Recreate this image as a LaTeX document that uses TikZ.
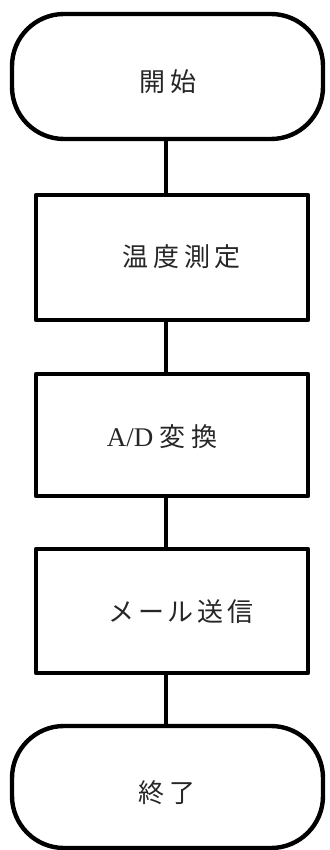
\documentclass[tikz,border=0pt]{standalone}
\usepackage{fontspec}
\setmainfont{Liberation Serif}
\newfontfamily\jpfont{Noto Sans CJK JP}
\begin{document}
\begin{tikzpicture}[x=1pt,y=-1pt,
  shapeline/.style={draw=black,line width=4.4pt,line join=round,fill=white},
  terminal/.style={shapeline,rectangle,rounded corners=52pt,minimum width=311pt,minimum height=125pt,inner sep=0pt},
  procbox/.style={shapeline,rectangle,minimum width=272pt,minimum height=125pt,inner sep=0pt},
  lbl/.style={font=\fontsize{26}{30}\selectfont,text=black!85,inner sep=0pt},
  conn/.style={draw=black,line width=4.4pt}]
\useasboundingbox (0,0) rectangle (329,850);
\fill[white] (0,0) rectangle (329,850);
\node[terminal] (start) at (167.5,76.5) {};
\node[procbox] (p1) at (172,257.5) {};
\node[procbox,minimum height=122pt] (p2) at (172,435) {};
\node[procbox,minimum height=124pt] (p3) at (172,611) {};
\node[terminal,minimum height=122pt] (stop) at (167.5,787) {};
\draw[conn] (start.south -| 166,0) -- (p1.north -| 166,0);
\draw[conn] (p1.south -| 166,0) -- (p2.north -| 166,0);
\draw[conn] (p2.south -| 166,0) -- (p3.north -| 166,0);
\draw[conn] (p3.south -| 166,0) -- (stop.north -| 166,0);
\node[lbl] (t0) at (168,82) {\jpfont\addfontfeature{LetterSpace=22}開始};
\node[lbl] (t1) at (182,257) {\jpfont\addfontfeature{LetterSpace=18}温度測定};
\node[lbl] (t2) at (162,437) {\fontsize{27}{30}\selectfont A/D\hspace{6pt}{\jpfont\fontsize{26}{30}\selectfont\addfontfeature{LetterSpace=22}変換}};
\node[lbl] (t3) at (181,612) {\jpfont\addfontfeature{LetterSpace=15}メール送信};
\node[lbl] (t4) at (167,793) {\jpfont\addfontfeature{LetterSpace=22}終了};
\end{tikzpicture}
\end{document}
